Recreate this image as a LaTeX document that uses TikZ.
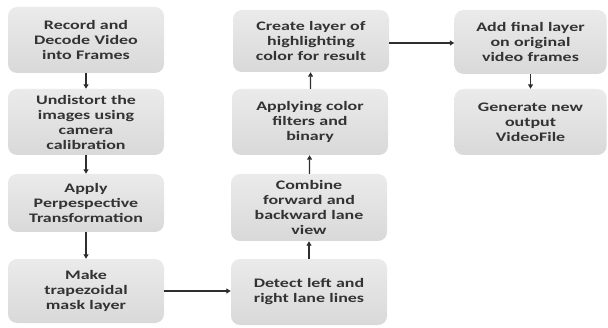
\documentclass[tikz,border=0pt]{standalone}
\usepackage{fontspec}
\usetikzlibrary{arrows.meta}
\newfontfamily\boxfont[FakeStretch=1.38]{Carlito}
\definecolor{boxtext}{HTML}{333333}
\definecolor{linkcol}{HTML}{2E2E2E}
\begin{document}
\begin{tikzpicture}[x=1pt,y=1pt,
  stagebox/.style={rounded corners=9pt, top color=gray!16, bottom color=gray!30,
    minimum width=156pt, minimum height=66pt, inner sep=0pt, text width=152pt,
    align=center, text=boxtext,
    font=\boxfont\bfseries\fontsize{13}{15}\selectfont},
  link/.style={draw=linkcol, line width=1.2pt, -{Triangle[length=4.5pt,width=5pt]}}]
\useasboundingbox (0,0) rectangle (608,327);
% left column, top to bottom
\node[stagebox] (a1) at (86,287) {Record and\\Decode Video\\into Frames};
\node[stagebox] (a2) at (86,205) {Undistort the\\images using\\camera\\calibration};
\node[stagebox, minimum height=58pt] (a3) at (86,124) {Apply\\Perpespective\\Transformation};
\node[stagebox, minimum height=64pt] (a4) at (86,36) {Make\\trapezoidal\\mask layer};
% middle column, bottom to top
\node[stagebox] (b1) at (309,35) {Detect left and\\right lane lines};
\node[stagebox, minimum height=67pt] (b2) at (309,119.5) {Combine\\forward and\\backward lane\\view};
\node[stagebox] (b3) at (310,205) {Applying color\\filters and\\binary};
\node[stagebox, minimum height=62pt] (b4) at (311,286) {Create layer of\\highlighting\\color for result};
% right column
\node[stagebox, minimum width=151pt, minimum height=64pt] (c1) at (530.5,285) {Add final layer\\on original\\video frames};
\node[stagebox, minimum width=151pt] (c2) at (530.5,205) {Generate new\\output\\VideoFile};
% connectors
\draw[link] (a1) -- (a2);
\draw[link] (a2) -- (a3);
\draw[link] (a3) -- (a4);
\draw[link] (a4.east) -- (a4.east -| b1.west);
\draw[link] (b1) -- (b2);
\draw[link] (b2) -- (b3);
\draw[link] (b3) -- (b4);
\draw[link] ([yshift=-2pt]b4.east) -- ([yshift=-2pt]b4.east -| c1.west);
\draw[link] (c1) -- (c2);
\end{tikzpicture}
\end{document}
